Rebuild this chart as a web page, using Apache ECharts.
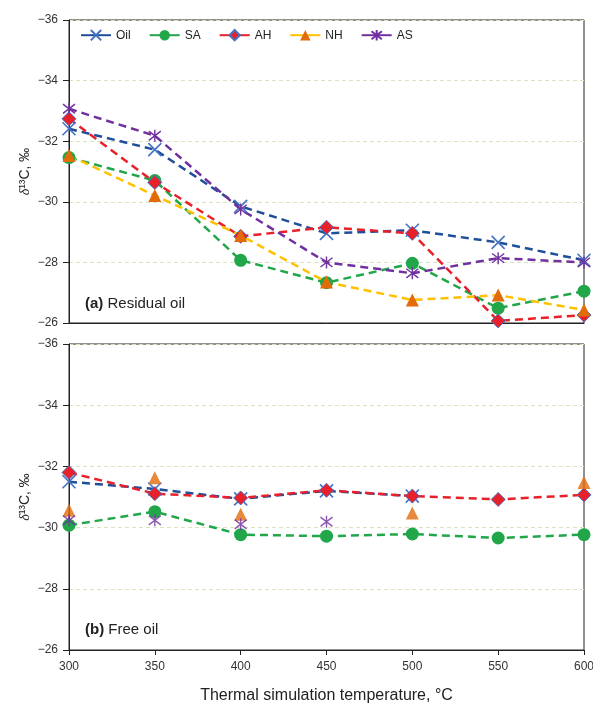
<!DOCTYPE html>
<html><head><meta charset="utf-8">
<script src="https://cdn.jsdelivr.net/npm/echarts@6/dist/echarts.min.js"></script>
<style>html,body{margin:0;padding:0;background:#fff}#c{width:593px;height:704px}</style>
</head><body><div id="c"></div>
<script>
const temps = [300, 350, 400, 450, 500, 550, 600];
const yTicks = [-36, -34, -32, -30, -28, -26];
// (a) Residual oil
const resOil = [-32.41, -31.72, -29.85, -28.96, -29.06, -28.66, -28.07];
const resSA  = [-31.46, -30.70, -28.07, -27.33, -27.97, -26.49, -27.05];
const resAH  = [-32.74, -30.64, -28.86, -29.16, -28.96, -26.07, -26.26];
const resNH  = [-31.53, -30.21, -28.89, -27.35, -26.76, -26.92, -26.43];
const resAS  = [-33.07, -32.18, -29.75, -28.00, -27.64, -28.14, -28.00];
// (b) Free oil
const freeOil = [-31.50, -31.26, -30.94, -31.20, -31.03, null, null];
const freeSA  = [-30.08, -30.52, -29.77, -29.72, -29.79, -29.66, -29.77];
const freeAH  = [-31.80, -31.11, -30.97, -31.22, -31.03, -30.92, -31.07];
const freeNH  = [-30.57, -31.63, -30.44, null, -30.48, null, -31.47];
const freeAS  = [-30.24, -30.24, -30.11, -30.19, null, null, null];

const C = {
  oilLine:'#1F4E9A', oilMark:'#4472C4', sa:'#21A649', ah:'#E8202A', ahBorder:'#4472C4',
  nhLine:'#FFC000', nhMark:'#E36C0A', as:'#7030A0'
};
const X_PATH = 'path://M0,0L10,10M10,0L0,10';
const STAR_PATH = 'path://M0,0L10,10M10,0L0,10M5,-1.5L5,11.5';
const pairs = (arr) => temps.map((t,i)=>[t, arr[i]]).filter(p=>p[1]!==null);
const fmt = v => String(v).replace('-', '\u2212');

const styles = {
  Oil: {symbol: X_PATH, symbolSize: 13, itemStyle:{color:'rgba(0,0,0,0)', borderColor:C.oilMark, borderWidth:1.6}, line:C.oilLine},
  SA:  {symbol:'circle', symbolSize: 13, itemStyle:{color:C.sa}, line:C.sa},
  AH:  {symbol:'diamond', symbolSize: 14, itemStyle:{color:C.ah, borderColor:C.ahBorder, borderWidth:1}, line:C.ah},
  NH:  {symbol:'triangle', symbolSize: 13, itemStyle:{color:C.nhMark}, line:C.nhLine},
  AS:  {symbol: STAR_PATH, symbolSize: 12, itemStyle:{color:'rgba(0,0,0,0)', borderColor:C.as, borderWidth:1.4}, line:C.as}
};

function lineSeries(name, arr, idx){
  const s = styles[name];
  return {
    name, type:'line', xAxisIndex: idx, yAxisIndex: idx, data: pairs(arr),
    symbol: s.symbol, symbolSize: s.symbolSize, showAllSymbol:true,
    itemStyle: s.itemStyle, color: s.line,
    lineStyle: {color: s.line, width: 2.5, type:[8,5]},
    z: 2
  };
}
function scatterSeries(name, arr, idx){
  const s = styles[name];
  return {
    name, type:'scatter', xAxisIndex: idx, yAxisIndex: idx, data: pairs(arr),
    symbol: s.symbol, symbolSize: s.symbolSize, itemStyle: s.itemStyle, z: 3
  };
}

function yAxis(gi){
  return {
    type:'value', gridIndex: gi, min:-36, max:-26, interval:2, inverse:true,
    name:'{i|\u03B4}\u00B9\u00B3C, \u2030', nameLocation:'middle', nameGap:37, nameRotate:90,
    nameMoveOverlap:false,
    nameTextStyle:{fontSize:14, color:'#222', fontFamily:'Liberation Sans',
      rich:{i:{fontStyle:'italic', fontSize:14, color:'#222', fontFamily:'Liberation Serif'}}},
    axisLine:{show:true, lineStyle:{color:'#222', width:1}},
    axisTick:{show:true, length:6, lineStyle:{color:'#222'}},
    axisLabel:{formatter: fmt, fontSize:12, color:'#333', fontFamily:'Liberation Sans', margin:11},
    splitLine:{show:true, lineStyle:{color:'#DDE2BE', type:[4,3], width:1}}
  };
}
function xAxis(gi, labels){
  return {
    type:'value', gridIndex: gi, min:300, max:600, interval:50,
    axisLine:{show:true, lineStyle:{color:'#222', width:1}},
    axisTick:{show:labels, length:5, lineStyle:{color:'#222'}},
    axisLabel:{show:labels, fontSize:12, color:'#333', fontFamily:'Liberation Sans', margin:11},
    splitLine:{show:false},
    name: labels ? 'Thermal simulation temperature, \u00B0C' : '',
    nameLocation:'middle', nameGap:38,
    nameTextStyle:{fontSize:16, color:'#222', fontFamily:'Liberation Sans'}
  };
}

const chart = echarts.init(document.getElementById('c'), null, {renderer:'canvas'});
chart.setOption({
  animation:false,
  backgroundColor:'#fff',
  grid:[
    {left:69, top:20, width:515, height:303, show:true, borderColor:'#222', borderWidth:1, backgroundColor:'#fff', outerBoundsMode:'none', containLabel:false},
    {left:69, top:344, width:515, height:306, show:true, borderColor:'#222', borderWidth:1, backgroundColor:'#fff', outerBoundsMode:'none', containLabel:false}
  ],
  xAxis:[xAxis(0,false), xAxis(1,true)],
  yAxis:[yAxis(0), yAxis(1)],
  legend:{
    data:['Oil','SA','AH','NH','AS'], left:75, top:24, itemWidth:30, itemHeight:13, itemGap:18,
    lineStyle:{type:'solid'},
    textStyle:{fontSize:12, color:'#222', fontFamily:'Liberation Sans'}
  },
  title:[
    {text:'{b|(a)} Residual oil', left:80, top:291, textStyle:{fontSize:15, fontWeight:'normal', color:'#222', fontFamily:'Liberation Sans', rich:{b:{fontWeight:'bold', fontSize:15, color:'#222', fontFamily:'Liberation Sans'}}}},
    {text:'{b|(b)} Free oil', left:80, top:617, textStyle:{fontSize:15, fontWeight:'normal', color:'#222', fontFamily:'Liberation Sans', rich:{b:{fontWeight:'bold', fontSize:15, color:'#222', fontFamily:'Liberation Sans'}}}}
  ],
  series:[
    lineSeries('Oil', resOil, 0),
    lineSeries('SA', resSA, 0),
    lineSeries('AH', resAH, 0),
    lineSeries('NH', resNH, 0),
    lineSeries('AS', resAS, 0),
    lineSeries('Oil', freeOil, 1),
    lineSeries('SA', freeSA, 1),
    lineSeries('AH', freeAH, 1),
    scatterSeries('NH', freeNH, 1),
    scatterSeries('AS', freeAS, 1)
  ]
});
</script></body></html>
